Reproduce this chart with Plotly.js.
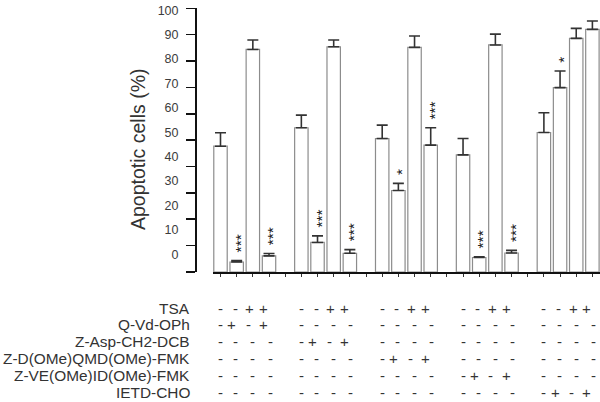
<!DOCTYPE html>
<html>
<head>
<meta charset="utf-8">
<script src="https://cdn.plot.ly/plotly-3.0.1.min.js"></script>
<style>html,body{margin:0;padding:0;background:#fff;}#chart{width:600px;height:402px;}</style>
</head>
<body>
<div id="chart"></div>
<script>
// ---- data ----
const groups = ['Q-Vd-OPh', 'Z-Asp-CH2-DCB', 'Z-D(OMe)QMD(OMe)-FMK', 'Z-VE(OMe)ID(OMe)-FMK', 'IETD-CHO'];
const apoptosis = [47.7, 3.8, 84.4, 6.1,  54.7, 11.2, 85.4, 7.1,  50.6, 30.9, 85.2, 48.1,  44.4, 5.5, 86.1, 7.2,  52.9, 69.9, 88.6, 92.0];
const errUp     = [5.1, 0.5, 3.6, 0.9,   4.8, 2.5, 2.6, 1.4,    5.1, 2.7, 4.3, 6.6,    6.2, 0.3, 4.1, 1.0,   7.5, 6.3, 3.8, 3.2];
const significance = ['', '***', '', '***',  '', '***', '', '***',  '', '*', '', '***',  '', '***', '', '***',  '', '*', '', ''];
const treatments = ['TSA', 'Q-Vd-OPh', 'Z-Asp-CH2-DCB', 'Z-D(OMe)QMD(OMe)-FMK', 'Z-VE(OMe)ID(OMe)-FMK', 'IETD-CHO'];
const signsTSA   = '--++ --++ --++ --++ --++';
const signsQVD   = '-+-+ ---- ---- ---- ----';
const signsZASP  = '---- -+-+ ---- ---- ----';
const signsZD    = '---- ---- -+-+ ---- ----';
const signsZVE   = '---- ---- ---- -+-+ ----';
const signsIETD  = '---- ---- ---- ---- -+-+';
const yTickLabels = [0, 10, 20, 30, 40, 50, 60, 70, 80, 90, 100];

// ---- layout constants ----
const BARS_PER_GROUP = 4, GROUP_SLOTS = 5, BAR_W = 0.83;
const xs = apoptosis.map((_, k) => Math.floor(k / BARS_PER_GROUP) * GROUP_SLOTS + (k % BARS_PER_GROUP));
const PLOT_TOP = 4, PLOT_BOTTOM = 272, PLOT_H = PLOT_BOTTOM - PLOT_TOP, PLOT_LEFT = 196, PLOT_W = 404;
const pxToPaperY = py => (PLOT_BOTTOM - py) / PLOT_H;
const pxToPaperX = px => (px - PLOT_LEFT) / PLOT_W;
const ROW_FIRST = 308, ROW_STEP = 16.9;
const shiftByPattern = {'--++': [0, -1.5, -3, -5.5], '-+-+': [0, -5, -4.5, -5.5], '----': [0, -1, 0, 1]};
const STAR_GAP = 2.0;          // gap (axis units) between error cap and stars
const STAR_NUDGE = 0.22;       // horizontal centring of the rotated star glyphs (slot units)
const TXT = '#333';
const FONT = 'Arial, "Liberation Sans", sans-serif';

const barTrace = {
  type: 'bar', x: xs, y: apoptosis, width: BAR_W,
  marker: {color: '#ffffff', line: {color: '#8c8c8c', width: 1.2}},
  error_y: {type: 'data', array: errUp, arrayminus: errUp.map(() => 0), symmetric: false,
            color: '#333', thickness: 1.6, width: 5.5},
  hoverinfo: 'skip', showlegend: false
};
// invisible spacer bars sitting on the error caps; their outside text carries the significance stars
const starTrace = {
  type: 'bar', x: xs, base: apoptosis.map((v, k) => v + errUp[k]), y: apoptosis.map(() => STAR_GAP),
  width: BAR_W, offset: -BAR_W / 2 + STAR_NUDGE,
  marker: {color: 'rgba(0,0,0,0)', line: {width: 0}},
  text: significance, textposition: 'outside', textangle: -90, constraintext: 'none', cliponaxis: false,
  textfont: {family: FONT, size: 15.5, color: '#222'}, outsidetextfont: {family: FONT, size: 15.5, color: '#222'},
  hoverinfo: 'skip', showlegend: false
};
const labelAxisTrace = {type: 'scatter', x: [], y: [], xaxis: 'x', yaxis: 'y2', showlegend: false, hoverinfo: 'skip'};

const annotations = [];
// y-axis title
annotations.push({text: 'Apoptotic cells (%)', xref: 'paper', yref: 'paper', x: pxToPaperX(138), y: pxToPaperY(150),
  textangle: -90, showarrow: false, xanchor: 'center', yanchor: 'middle', font: {family: FONT, size: 19.5, color: TXT}});
// treatment table
const rows = [signsTSA, signsQVD, signsZASP, signsZD, signsZVE, signsIETD];
rows.forEach((row, r) => {
  const yp = pxToPaperY(ROW_FIRST + r * ROW_STEP);
  annotations.push({text: treatments[r], xref: 'paper', yref: 'paper', x: pxToPaperX(192), y: yp,
    xanchor: 'right', yanchor: 'middle', showarrow: false, font: {family: FONT, size: 15.4, color: TXT}});
  row.split(' ').forEach((pat, g) => {
    pat.split('').forEach((sg, i) => {
      annotations.push({text: sg, xref: 'x', yref: 'paper', x: g * GROUP_SLOTS + i, y: yp,
        xshift: shiftByPattern[pat][i], xanchor: 'center', yanchor: 'middle', showarrow: false,
        font: {family: FONT, size: 15, color: TXT}});
    });
  });
});

const layout = {
  width: 600, height: 402,
  margin: {l: PLOT_LEFT, r: 0, t: PLOT_TOP, b: 402 - PLOT_BOTTOM, pad: 0},
  paper_bgcolor: '#fff', plot_bgcolor: '#fff',
  font: {family: FONT, color: TXT},
  barmode: 'overlay', bargap: 0,
  xaxis: {domain: [pxToPaperX(213), 1], range: [-0.464, 23.47], showgrid: false, zeroline: false,
          showline: true, linecolor: '#111', linewidth: 2.2, ticks: 'outside', ticklen: 3, tickwidth: 1,
          tickcolor: '#333', tick0: 0, dtick: 1, showticklabels: false, anchor: 'y', fixedrange: true},
  yaxis: {domain: [0, (PLOT_BOTTOM - 8.3) / PLOT_H], range: [0, 100], anchor: 'free', position: 0,
          showgrid: false, zeroline: false, showline: true, linecolor: '#111', linewidth: 2,
          ticks: 'outside', ticklen: 9, tickwidth: 1.6, tickcolor: '#111', dtick: 10, tick0: 0,
          showticklabels: false, fixedrange: true},
  yaxis2: {overlaying: 'y', side: 'left', anchor: 'free', position: 0, domain: [0, 1],
           range: [-(PLOT_BOTTOM - 254) / 2.48, 100 + (6 - PLOT_TOP) / 2.48],
           tickmode: 'array', tickvals: yTickLabels, ticktext: yTickLabels.map(String),
           showgrid: false, zeroline: false, showline: false,
           ticks: 'outside', ticklen: 15, tickcolor: 'rgba(0,0,0,0)',
           tickfont: {family: FONT, size: 12.5, color: '#3c3c3c'}, fixedrange: true},
  annotations: annotations,
  showlegend: false
};

Plotly.newPlot('chart', [barTrace, starTrace, labelAxisTrace], layout, {displayModeBar: false, staticPlot: true});
</script>
</body>
</html>
